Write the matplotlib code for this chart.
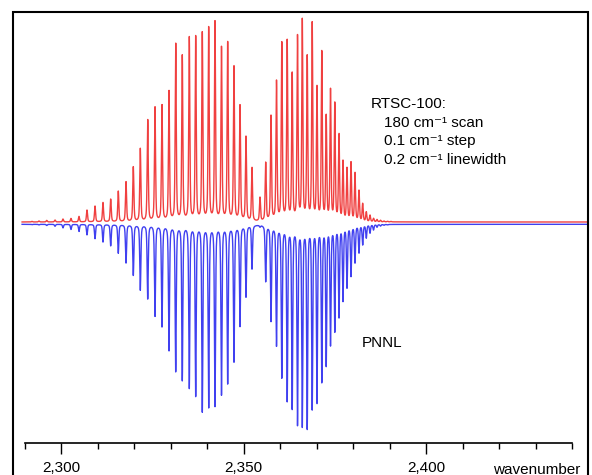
import numpy as np
import matplotlib
matplotlib.use('Agg')
import matplotlib.pyplot as plt
from matplotlib.patches import Rectangle

plt.rcParams['font.family'] = ['Liberation Sans', 'DejaVu Sans']

# line centres (cm-1)
line_pos = np.array([
    2291.92, 2293.84, 2295.95, 2298.23, 2300.42, 2302.61, 2304.81, 2307.00, 2309.20, 2311.39,
    2313.50, 2315.58, 2317.70, 2319.70, 2321.62, 2323.65, 2325.65, 2327.57, 2329.49, 2331.33,
    2333.13, 2335.05, 2336.81, 2338.62, 2340.37, 2342.10, 2343.88, 2345.58, 2347.31, 2348.96,
    2350.60, 2352.25, 2354.44, 2356.00, 2357.46, 2358.97, 2360.42, 2361.90, 2363.27, 2364.73,
    2366.04, 2367.39, 2368.76, 2370.07, 2371.39, 2372.60, 2373.78, 2374.95, 2376.11, 2377.20,
    2378.30, 2379.40, 2380.49, 2381.59, 2382.60, 2383.59, 2384.61, 2385.57, 2386.53, 2387.49,
    2388.45, 2389.41, 2390.36])

# RTSC-100 peak heights (arb. units)
rtsc_peak = np.array([
    0.003, 0.005, 0.008, 0.010, 0.015, 0.018, 0.028, 0.060, 0.080, 0.098,
    0.115, 0.155, 0.202, 0.277, 0.369, 0.514, 0.578, 0.589, 0.660, 0.897,
    0.839, 0.930, 0.935, 0.952, 0.980, 1.007, 0.879, 0.903, 0.784, 0.587,
    0.430, 0.274, 0.125, 0.300, 0.535, 0.712, 0.902, 0.914, 0.752, 0.940,
    1.019, 0.839, 1.002, 0.685, 0.860, 0.539, 0.669, 0.602, 0.444, 0.310,
    0.274, 0.302, 0.249, 0.160, 0.094, 0.052, 0.035, 0.019, 0.013, 0.009,
    0.005, 0.004, 0.003])

# PNNL peak depths (arb. units, drawn downward)
pnnl_peak = np.array([
    0.002, 0.003, 0.006, 0.010, 0.018, 0.026, 0.036, 0.053, 0.072, 0.089,
    0.108, 0.145, 0.194, 0.256, 0.330, 0.375, 0.462, 0.515, 0.635, 0.740,
    0.785, 0.824, 0.864, 0.940, 0.921, 0.912, 0.855, 0.799, 0.692, 0.512,
    0.365, 0.225, 0.015, 0.288, 0.487, 0.612, 0.770, 0.888, 0.929, 1.010,
    1.016, 1.029, 0.929, 0.899, 0.795, 0.712, 0.609, 0.542, 0.470, 0.387,
    0.320, 0.262, 0.195, 0.145, 0.104, 0.070, 0.045, 0.029, 0.015, 0.009,
    0.005, 0.003, 0.001])

rtsc_base = 0.0
pnnl_base = -0.0115

major_ticks = [2300, 2350, 2400]
tick_labels = ['2,300', '2,350', '2,400']
minor_ticks = [2290, 2310, 2320, 2330, 2340, 2360, 2370, 2380, 2390, 2410, 2420, 2430, 2440]

# pseudo-voigt line shape
fwhm = 0.35
eta = 0.5
wn = np.arange(2289.2, 2444.2, 0.02)


def profile(dx):
    g = fwhm / 2
    s = fwhm / 2.3548
    return eta * g**2 / (dx**2 + g**2) + (1 - eta) * np.exp(-dx**2 / (2 * s**2))


def spectrum(heights):
    # amplitudes so that the summed curve hits the read heights at each centre
    M = profile(line_pos[:, None] - line_pos[None, :])
    amp = np.linalg.solve(M, heights)
    return (amp[None, :] * profile(wn[:, None] - line_pos[None, :])).sum(axis=1)


red = rtsc_base + spectrum(rtsc_peak)
blue = pnnl_base - spectrum(pnnl_peak)

W, H = 592, 475
fig = plt.figure(figsize=(W / 100, H / 100), dpi=100)
ax = fig.add_axes([13 / W, 32 / H, 575 / W, 431 / H])
ax.plot(wn, blue, color='#4040f0', lw=1.0)
ax.plot(wn, red, color='#f04040', lw=1.0)

ax.set_xlim(2286.709, 2444.388)
ax.set_ylim(-1.105, 1.05)
for s in ['top', 'left', 'right']:
    ax.spines[s].set_visible(False)
ax.spines['bottom'].set_bounds(2290, 2440)
ax.spines['bottom'].set_linewidth(1.2)
ax.set_yticks([])
ax.set_xticks(major_ticks, tick_labels)
ax.set_xticks(minor_ticks, minor=True)
ax.tick_params(axis='x', which='major', length=7.6, width=1.0, pad=5.5, labelsize=11)
ax.tick_params(axis='x', which='minor', length=4, width=1.0)

# outer frame (cut off at the bottom like the original)
fig.patches.append(Rectangle((13 / W, -0.1), 575 / W, 1 - 12 / H + 0.1,
                             transform=fig.transFigure, fill=False, lw=1.5, ec='black'))


def ftext(x, y, s, **kw):
    fig.text(x / W, 1 - y / H, s, fontsize=11, va='baseline', **kw)


ftext(371, 108, 'RTSC-100:')
ftext(384, 127, '180 cm⁻¹ scan')
ftext(384, 145.5, '0.1 cm⁻¹ step')
ftext(384, 164, '0.2 cm⁻¹ linewidth')
ftext(362, 347, 'PNNL')
ftext(580, 473.5, 'wavenumber', ha='right')

fig.savefig('out.png', dpi=100)
